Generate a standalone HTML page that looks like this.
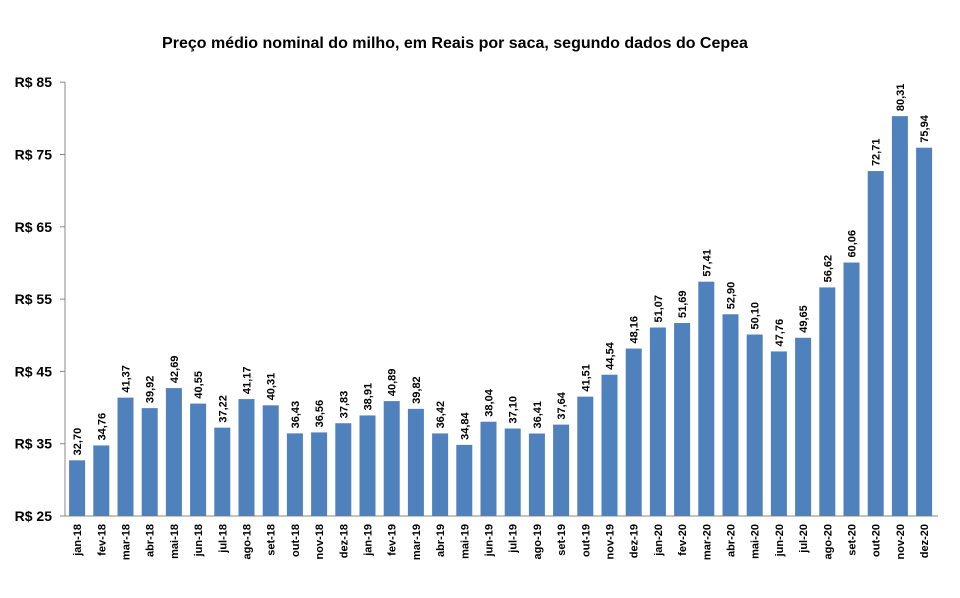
<!DOCTYPE html>
<html><head><meta charset="utf-8"><style>
body{margin:0;background:#fff;}
svg text{font-family:"Liberation Sans",Arial,sans-serif;font-weight:bold;fill:#000;}
</style></head><body>
<svg id="c" width="960" height="593" xmlns="http://www.w3.org/2000/svg">
<rect width="960" height="593" fill="#fff"/>
<text x="455" y="48" font-size="16" text-anchor="middle">Preço médio nominal do milho, em Reais por saca, segundo dados do Cepea</text>
<g id="g"></g>
</svg>
<script>
const vals=[32.70,34.76,41.37,39.92,42.69,40.55,37.22,41.17,40.31,36.43,36.56,37.83,38.91,40.89,39.82,36.42,34.84,38.04,37.10,36.41,37.64,41.51,44.54,48.16,51.07,51.69,57.41,52.90,50.10,47.76,49.65,56.62,60.06,72.71,80.31,75.94];
const mons=["jan","fev","mar","abr","mai","jun","jul","ago","set","out","nov","dez"];
const y0=516,k=7.23,x0=65,w=24.2;
let s='';
s+=`<line x1="${x0}" y1="82" x2="${x0}" y2="${y0}" stroke="#888"/>`;
s+=`<line x1="${x0}" y1="${y0}" x2="938" y2="${y0}" stroke="#888"/>`;
for(let v=25;v<=85;v+=10){const y=y0-(v-25)*k;
s+=`<line x1="60" y1="${y}" x2="${x0}" y2="${y}" stroke="#888"/>`;
s+=`<text x="52" y="${y+5}" font-size="14" text-anchor="end">R$ ${v}</text>`;}
vals.forEach((v,i)=>{const cx=x0+w*(i+0.5),y=y0-(v-25)*k;
s+=`<rect x="${cx-8}" y="${y}" width="16" height="${y0-y}" fill="#4f81bd"/>`;
s+=`<text transform="translate(${cx+4},${y-5}) rotate(-90)" font-size="11">${v.toFixed(2).replace('.',',')}</text>`;
const lab=mons[i%12]+'-'+(18+Math.floor(i/12));
s+=`<text transform="translate(${cx+4},${y0+8}) rotate(-90)" font-size="11" text-anchor="end">${lab}</text>`;});
document.getElementById('g').innerHTML=s;
</script>
</body></html>
